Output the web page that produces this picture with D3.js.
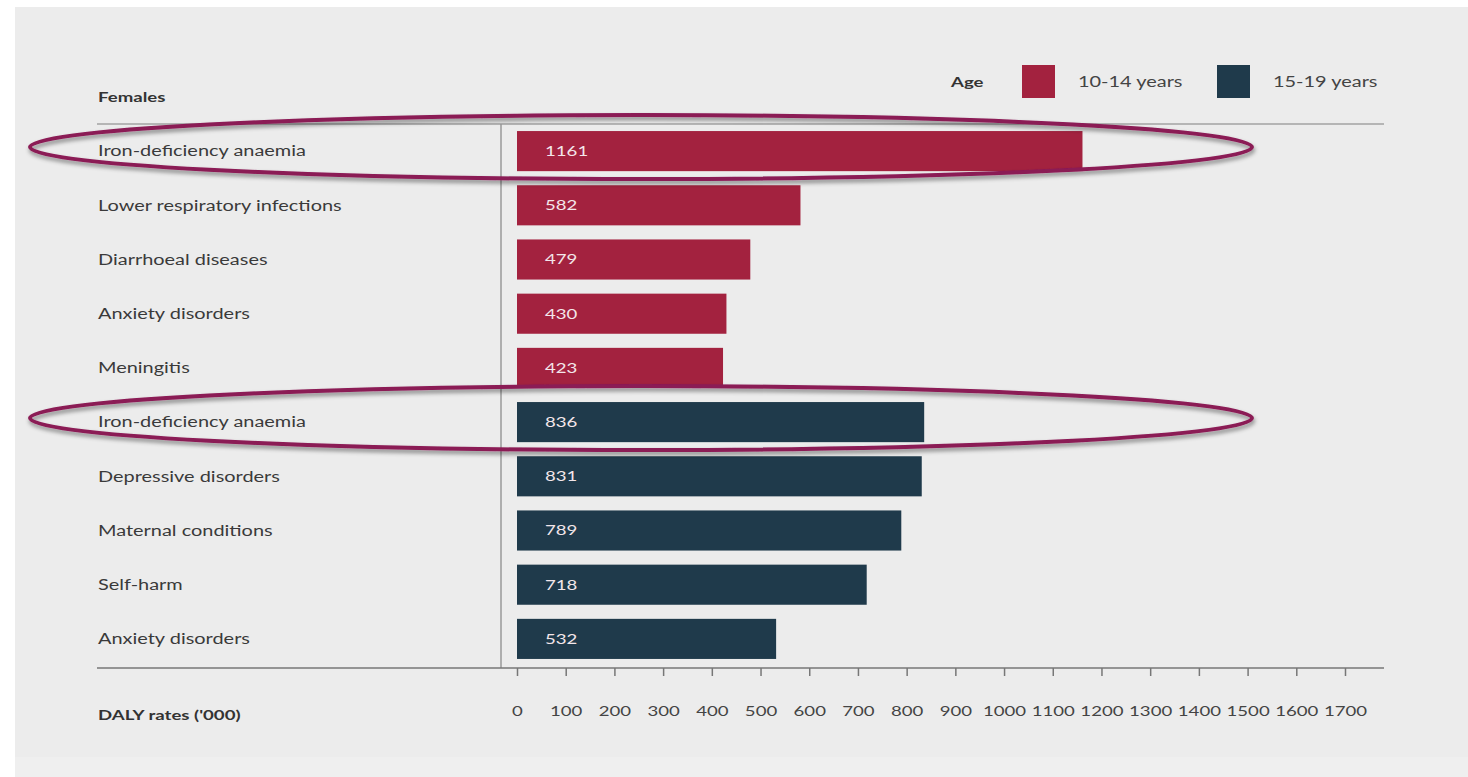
<!DOCTYPE html>
<html>
<head>
    <title>DALY rates, females</title>
    <script src="https://d3js.org/d3.v7.min.js"></script>
    <style>
        body { margin: 0; background: #fff; }
        text { font-family: Lato, "Open Sans", sans-serif; }
    </style>
</head>
<body>
    <script>
// causes, top to bottom
const causes = ["Iron-deficiency anaemia", "Lower respiratory infections", "Diarrhoeal diseases",
                "Anxiety disorders", "Meningitis", "Iron-deficiency anaemia", "Depressive disorders",
                "Maternal conditions", "Self-harm", "Anxiety disorders"];
const dalyValues = [1161, 582, 479, 430, 423, 836, 831, 789, 718, 532];
const ageGroups = ["10-14 years", "10-14 years", "10-14 years", "10-14 years", "10-14 years",
                   "15-19 years", "15-19 years", "15-19 years", "15-19 years", "15-19 years"];
const legendKeys = ["10-14 years", "15-19 years"];
const xTicks = d3.range(0, 1701, 100);
const highlighted = [0, 5];  // rows circled in the original

const W = 1468, H = 777;
const stretch = 1.33;  // the original text is drawn wide

let svg = d3.select("body")
    .append("svg")
    .attr("width", W)
    .attr("height", H);

// shadow for the hand drawn ellipses
let defs = svg.append("defs");
let f = defs.append("filter").attr("id", "shadow")
    .attr("x", "-5%").attr("y", "-30%").attr("width", "110%").attr("height", "160%");
f.append("feDropShadow").attr("dx", 1).attr("dy", 3).attr("stdDeviation", 2)
    .attr("flood-color", "#000").attr("flood-opacity", 0.45);

// grey panel
svg.append("rect").attr("x", 15).attr("y", 7).attr("width", W - 15).attr("height", 750).attr("fill", "#ececec");
svg.append("rect").attr("x", 15).attr("y", 757).attr("width", W - 15).attr("height", 20).attr("fill", "#efefef");

let x = d3.scaleLinear()
    .domain([0, 1700])
    .range([517, 1345]);

let y = d3.scaleBand()
    .domain(d3.range(causes.length))
    .range([124, 666])
    .paddingInner(0.26)
    .paddingOuter(0.13);

let color = d3.scaleOrdinal()
    .domain(legendKeys)
    .range(["#a3223f", "#1f3a4b"]);

// wide text helper
function wideText(g, tx, ty, str, size, bold, fill) {
    return g.append("text")
        .attr("transform", `translate(${tx},${ty}) scale(${stretch},1)`)
        .attr("dy", "0.35em")
        .attr("font-size", size)
        .attr("font-weight", bold ? "bold" : "normal")
        .attr("fill", fill)
        .text(str);
}

// frame lines
svg.append("line").attr("x1", 97).attr("x2", 1384).attr("y1", 124).attr("y2", 124)
    .attr("stroke", "#b5b5b5").attr("stroke-width", 2);
svg.append("line").attr("x1", 501).attr("x2", 501).attr("y1", 124).attr("y2", 668)
    .attr("stroke", "#9a9a9a").attr("stroke-width", 1.5);
svg.append("line").attr("x1", 97).attr("x2", 1384).attr("y1", 668).attr("y2", 668)
    .attr("stroke", "#777").attr("stroke-width", 1.5);

// x axis
let xAxis = svg.append("g")
    .attr("transform", "translate(0,668)")
    .call(d3.axisBottom(x).tickValues(xTicks).tickFormat(d3.format("d"))
        .tickSize(8).tickPadding(30).tickSizeOuter(0));
xAxis.select(".domain").remove();
xAxis.selectAll(".tick line").attr("stroke", "#777").attr("stroke-width", 1.5);
xAxis.selectAll(".tick text")
    .attr("fill", "#444")
    .attr("transform", `scale(${stretch},1)`)
    .style("font-size", "14px")
    .style("font-family", "Lato, sans-serif");

// title and axis title
wideText(svg, 98, 97, "Females", 14, true, "#333");
wideText(svg, 98, 715, "DALY rates ('000)", 14, true, "#333");

// category labels
causes.forEach((c, i) => {
    wideText(svg, 98, y(i) + y.bandwidth() / 2, c, 15, false, "#3a3a3a");
});

// bars
svg.selectAll(".bar")
    .data(dalyValues)
    .enter()
    .append("rect")
    .attr("class", "bar")
    .attr("x", x(0))
    .attr("y", (d, i) => y(i))
    .attr("width", d => x(d) - x(0))
    .attr("height", y.bandwidth())
    .attr("fill", (d, i) => color(ageGroups[i]));

dalyValues.forEach((v, i) => {
    wideText(svg, x(0) + 28, y(i) + y.bandwidth() / 2, v, 14, false, "#f3e6ea");
});

// legend
wideText(svg, 951, 82, "Age", 14, true, "#333");
legendKeys.forEach((k, i) => {
    let lx = 1022 + i * 195;
    svg.append("rect").attr("x", lx).attr("y", 65).attr("width", 33).attr("height", 33)
        .attr("fill", color(k));
    wideText(svg, lx + 56, 82, k, 15, false, "#444");
});

// annotation ellipses
svg.selectAll(".ring")
    .data(highlighted)
    .enter()
    .append("ellipse")
    .attr("cx", 641)
    .attr("cy", d => y(d) + y.bandwidth() / 2 - 4)
    .attr("rx", 611)
    .attr("ry", 32)
    .attr("fill", "none")
    .attr("stroke", "#8b1a55")
    .attr("stroke-width", 4)
    .attr("filter", "url(#shadow)");
    </script>
</body>
</html>
